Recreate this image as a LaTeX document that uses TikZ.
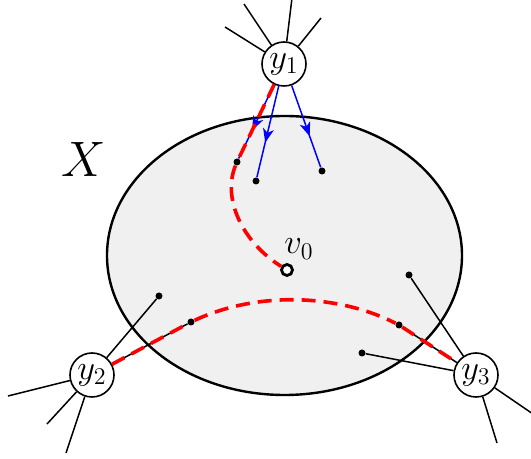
\documentclass[tikz,border=0pt]{standalone}
\usetikzlibrary{arrows.meta, decorations.markings}

\begin{document}
\begin{tikzpicture}[
    x=0.5pt, y=-0.5pt,
    vert/.style={circle, draw, thick, fill=white, minimum size=22pt, inner sep=0pt, font=\LARGE},
    dot/.style={circle, fill=black, minimum size=3.5pt, inner sep=0pt},
    edge/.style={line width=0.75pt},
    flow/.style={line width=0.75pt, blue, decoration={markings, mark=at position 0.62 with {\arrow{Stealth[length=7pt, width=5.5pt, inset=2pt]}}}, postaction={decorate}},
    walk/.style={red, line width=1.8pt, dash pattern=on 7pt off 4pt}
]
\useasboundingbox (0,0) rectangle (531,459);

% the set X
\draw[line width=1.2pt, fill=black!6] (284.5,255.5) ellipse [x radius=177.5, y radius=139.5];
\node (X) at (84,160) {\Huge $X$};

% outer vertices
\node (y1) [vert] at (284,64) {$y_1$};
\node (y2) [vert] at (92,375) {$y_2$};
\node (y3) [vert] at (476,375) {$y_3$};

% vertices inside X
\node (a1) [dot] at (237,162) {};
\node (a2) [dot] at (256,181) {};
\node (a3) [dot] at (322,171) {};
\node (b1) [dot] at (159,296) {};
\node (b2) [dot] at (191,322) {};
\node (c1) [dot] at (409,275) {};
\node (c2) [dot] at (399,325) {};
\node (c3) [dot] at (362,353) {};
\node (v0) [circle, draw, line width=1.4pt, fill=white, minimum size=5.5pt, inner sep=0pt] at (287,270) {};
\node (v0l) [font=\LARGE] at (299,249) {$v_0$};

% stubs leaving the picture
\coordinate (s11) at (225,27);
\coordinate (s12) at (244,4);
\coordinate (s13) at (292,-2);
\coordinate (s14) at (321,18);
\coordinate (s21) at (8,396);
\coordinate (s22) at (47,424);
\coordinate (s23) at (66,453);
\coordinate (s31) at (533,414);
\coordinate (s32) at (497,443);

\foreach \s in {s11,s12,s13,s14} \draw[edge] (y1) -- (\s);
\foreach \s in {s21,s22,s23} \draw[edge] (y2) -- (\s);
\foreach \s in {s31,s32} \draw[edge] (y3) -- (\s);

\foreach \t in {b1,b2} \draw[edge] (y2) -- (\t);
\foreach \t in {c1,c2,c3} \draw[edge] (y3) -- (\t);

\foreach \t in {a1,a2,a3} \draw[flow] (y1) -- (\t);

% red walks
\draw[walk] (y1) -- (a1) .. controls (222,198) and (242,242) .. (v0);
\draw[walk] (y2) -- (b2) .. controls (260,290) and (340,295) .. (c2) -- (y3);
\end{tikzpicture}
\end{document}
